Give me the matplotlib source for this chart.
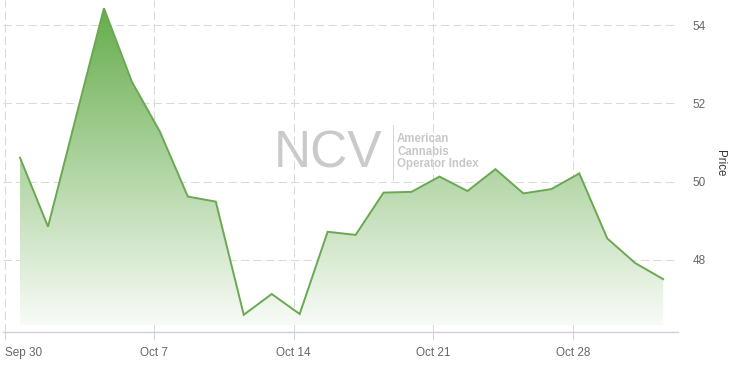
import numpy as np
import matplotlib
matplotlib.use("Agg")
import matplotlib.pyplot as plt
from matplotlib.colors import LinearSegmentedColormap
from matplotlib.lines import Line2D
from matplotlib.patches import PathPatch

# trading days (ordinal axis, weekends skipped)
dates = ['Sep 30', 'Oct 1', 'Oct 2', 'Oct 3', 'Oct 4',
         'Oct 7', 'Oct 8', 'Oct 9', 'Oct 10', 'Oct 11',
         'Oct 14', 'Oct 15', 'Oct 16', 'Oct 17', 'Oct 18',
         'Oct 21', 'Oct 22', 'Oct 23', 'Oct 24', 'Oct 25',
         'Oct 28', 'Oct 29', 'Oct 30', 'Oct 31']
prices = [50.61, 48.85, 51.65, 54.43, 52.55,
          51.28, 49.62, 49.49, 46.60, 47.13,
          46.62, 48.72, 48.64, 49.72, 49.74,
          50.13, 49.76, 50.32, 49.70, 49.81,
          50.21, 48.55, 47.92, 47.51]
tick_labels = ['Sep 30', 'Oct 7', 'Oct 14', 'Oct 21', 'Oct 28']
y_ticks = [48, 50, 52, 54]

W, H = 733, 365
fig = plt.figure(figsize=(W / 100, H / 100), dpi=100)
ax = fig.add_axes([3 / W, 33 / H, 675 / W, 332 / H])

x = np.arange(len(prices))
y = np.array(prices)
base = 46.33
xlim = (-0.61, 23.53)
ylim = (46.16, 54.64)

# gradient area
poly = ax.fill_between(x, y, base, facecolor='none', edgecolor='none')
clip = PathPatch(poly.get_paths()[0], transform=ax.transData,
                 facecolor='none', edgecolor='none')
ax.add_patch(clip)
cmap = LinearSegmentedColormap.from_list('g', ['#f8fbf7', '#66ad4c'])
grad = np.linspace(0, 1, 256).reshape(-1, 1)
im = ax.imshow(grad, extent=[x[0], x[-1], base, max(prices)], origin='lower',
               aspect='auto', cmap=cmap, zorder=1)
im.set_clip_path(clip)
ax.plot(x, y, color='#6aa852', lw=1.4, zorder=3, solid_joinstyle='miter')

ax.set_xlim(*xlim)
ax.set_ylim(*ylim)

# ticks
tick_pos = [dates.index(d) - 0.22 for d in tick_labels]
tick_pos[0] = -0.54
ax.set_xticks(tick_pos)
ax.set_xticklabels(tick_labels)
ax.xaxis.get_ticklabels()[0].set_horizontalalignment('left')
ax.tick_params(axis='x', length=6, width=0.75, color='#d0d4dc', pad=5,
               labelsize=8.5, labelcolor='#666666')
ax.yaxis.tick_right()
ax.set_yticks(y_ticks)
ax.tick_params(axis='y', length=0, pad=10.5, labelsize=8.5, labelcolor='#666666')
for lab in ax.get_xticklabels() + ax.get_yticklabels():
    lab.set_fontfamily('Liberation Sans')

ax.grid(True, color='#d9d9d9', lw=0.75, linestyle=(0, (8, 4)), zorder=0)
ax.set_axisbelow(True)
for s in ['top', 'left', 'right']:
    ax.spines[s].set_visible(False)
ax.spines['bottom'].set_color('#ccd1da')
ax.spines['bottom'].set_linewidth(1)

fig.text(720 / W, 1 - 163 / H, 'Price', rotation=270, ha='center', va='center',
         fontsize=8.3, color='#333333', family='Liberation Sans')

# watermark
fig.text(274 / W, 1 - 167 / H, 'NCV', ha='left', va='baseline', fontsize=37,
         color='#cacaca', family='Liberation Sans', zorder=0)
fig.add_artist(Line2D([393 / W, 393 / W], [1 - 125 / H, 1 - 180 / H],
                      color='#d6d6d6', lw=0.75))
for txt, yc in [('American', 139), ('Cannabis', 152), ('Operator Index', 164.5)]:
    fig.text(397 / W, 1 - yc / H, txt, ha='left', va='center', fontsize=8.3,
             color='#c8c8c8', fontweight='bold', family='Liberation Sans')

fig.savefig('out.png', dpi=100)
